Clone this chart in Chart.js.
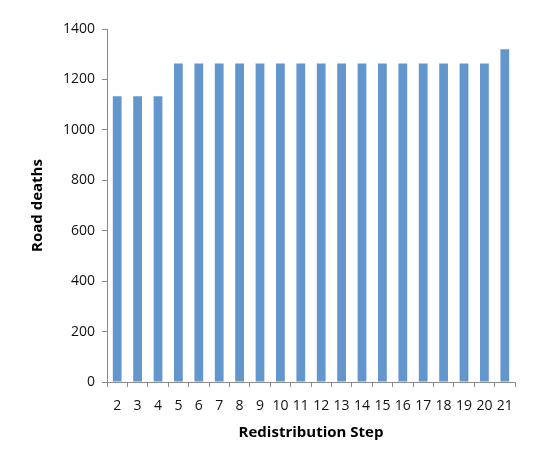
<!DOCTYPE html>
<html>
<head>
<meta charset="utf-8">
<script src="https://cdn.jsdelivr.net/npm/chart.js@4"></script>
<style>
    html, body { margin: 0; padding: 0; background: #fff; }
    #wrap { width: 548px; height: 459px; }
</style>
</head>
<body>
<div id="wrap"><canvas id="roadChart"></canvas></div>
<script>
const steps = ['2', '3', '4', '5', '6', '7', '8', '9', '10', '11', '12', '13', '14', '15', '16', '17', '18', '19', '20', '21'];
const roadDeaths = [1133, 1133, 1133, 1263, 1263, 1263, 1263, 1263, 1263, 1263, 1263, 1263, 1263, 1263, 1263, 1263, 1263, 1263, 1263, 1320];
const yTicks = [0, 200, 400, 600, 800, 1000, 1200, 1400];

document.addEventListener('DOMContentLoaded', () => {
    const axisColor = '#8a8a8a';
    const font = { family: 'Open Sans', size: 14 };
    const titleFont = { family: 'Open Sans', size: 15, weight: 'bold' };

    new Chart(document.getElementById('roadChart'), {
        type: 'bar',
        data: {
            labels: steps,
            datasets: [{
                label: 'Road deaths',
                data: roadDeaths,
                backgroundColor: 'rgb(100, 150, 206)',
                categoryPercentage: 1,
                barPercentage: 0.43
            }]
        },
        options: {
            responsive: true,
            maintainAspectRatio: false,
            animation: false,
            layout: {
                padding: { left: 29, right: 33, top: 29, bottom: 17 }
            },
            plugins: {
                legend: { display: false },
                tooltip: { enabled: false }
            },
            scales: {
                x: {
                    grid: { drawOnChartArea: false, color: axisColor, tickLength: 5 },
                    border: { color: axisColor },
                    ticks: { color: '#111', font: font, padding: 11, maxRotation: 0, autoSkip: false },
                    title: { display: true, text: 'Redistribution Step', color: '#000', font: titleFont, padding: 0 },
                    afterFit: (scale) => { scale.height = 60; }
                },
                y: {
                    min: 0,
                    max: 1400,
                    afterBuildTicks: (scale) => { scale.ticks = yTicks.map(v => ({ value: v })); },
                    grid: { drawOnChartArea: false, color: axisColor, tickLength: 5 },
                    border: { color: axisColor },
                    ticks: { color: '#111', font: font, padding: 7, callback: (v) => String(v) },
                    title: { display: true, text: 'Road deaths', color: '#000', font: titleFont, padding: 0 },
                    afterFit: (scale) => { scale.width = 78; }
                }
            }
        }
    });
});
</script>
</body>
</html>
